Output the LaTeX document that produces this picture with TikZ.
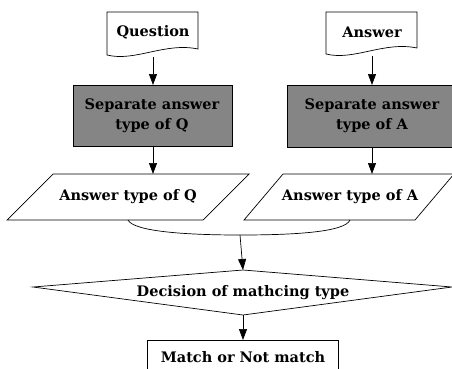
\documentclass[tikz,border=0pt]{standalone}
\usepackage{fontspec}
\setmainfont{DejaVu Serif}
\usetikzlibrary{arrows.meta}
\begin{document}
\begin{tikzpicture}[x=1pt,y=-1pt,
  shp/.style={draw=black,line width=0.7pt,fill=white},
  shade/.style={draw=black,line width=0.7pt,fill=black!48},
  lbl/.style={font=\fontsize{14.5}{20}\selectfont\bfseries,align=center,inner sep=0pt},
  arr/.style={draw=black,line width=0.7pt,-{Triangle[length=11pt,width=8pt]}}]
\useasboundingbox (0,0) rectangle (452,368);
\clip (0,0) rectangle (452,368);
% documents
\draw[shp] (107,12) -- (198,12) -- (198,49) .. controls (165,42) and (135,62) .. (107,55) -- cycle;
\node[lbl] (q) at (153,32) {Question};
\coordinate (qb) at (153,57);
\draw[shp] (326,12) -- (417,12) -- (417,48) .. controls (384,41) and (354,61) .. (326,54) -- cycle;
\node[lbl] (a) at (372,32) {Answer};
\coordinate (ab) at (372,56);
% shaded process boxes
\draw[shade] (73,85) rectangle (232,146);
\node[lbl] (sq) at (152,116) {Separate answer\\type of Q};
\coordinate (sqt) at (153,85);
\coordinate (sqb) at (153,146);
\draw[shade] (287,85) rectangle (455,147);
\node[lbl] (sa) at (372,116) {Separate answer\\type of A};
\coordinate (sat) at (372,85);
\coordinate (sab) at (372,147);
% parallelograms
\draw[shp] (53,174) -- (249,174) -- (203,220) -- (7,220) -- cycle;
\node[lbl] (tq) at (128,197) {Answer type of Q};
\coordinate (tqt) at (153,174);
\coordinate (tqb) at (128,220);
\draw[shp] (283,174) -- (454,174) -- (415,220) -- (244,220) -- cycle;
\node[lbl] (ta) at (350,197) {Answer type of A};
\coordinate (tat) at (372,174);
\coordinate (tab) at (350,220);
% joining curve
\coordinate (j) at (240,235);
\draw[line width=0.7pt] (tqb) .. controls (134,232) and (190,235) .. (j)
  .. controls (295,235) and (345,232) .. (tab);
% diamond
\draw[shp] (33,287) -- (243,270) -- (452,287) -- (243,315) -- cycle;
\node[lbl] (d) at (243,293) {Decision of mathcing type};
\coordinate (dt) at (243,270);
\coordinate (db) at (243,315);
% result box
\draw[shp] (147,340) rectangle (338,380);
\node[lbl] (m) at (243,357) {Match or Not match};
\coordinate (mt) at (243,340);
% arrows
\draw[arr] (qb) -- (sqt);
\draw[arr] (ab) -- (sat);
\draw[arr] (sqb) -- (tqt);
\draw[arr] (sab) -- (tat);
\draw[arr] (j) -- (dt);
\draw[arr] (db) -- (mt);
\end{tikzpicture}
\end{document}
